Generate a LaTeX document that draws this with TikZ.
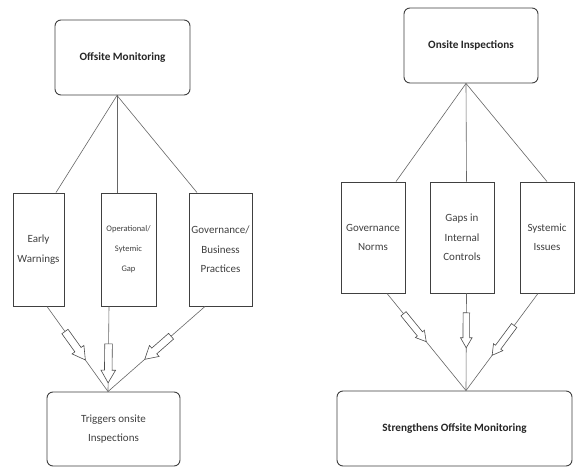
\documentclass[tikz,border=0pt]{standalone}
\usepackage{fontspec}
\setmainfont{Carlito}
\usetikzlibrary{shapes.arrows}
\begin{document}
\begin{tikzpicture}[x=1pt,y=-1pt,
  rbox/.style={draw=black!75, line width=0.9pt, rounded corners=6pt, align=center, inner sep=0pt, text=black!85},
  sbox/.style={draw=black!75, line width=0.9pt, align=center, inner sep=0pt, text=black!75, font=\fontsize{11}{19.5}\selectfont},
  link/.style={draw=black!60, line width=0.6pt},
  harrowL/.style={single arrow, draw=black!70, fill=white, line width=0.6pt, inner xsep=0pt, inner ysep=3.5pt,
    single arrow head extend=3.5pt, single arrow tip angle=60, minimum height=35pt, sloped, allow upside down},
  harrowR/.style={harrowL, inner ysep=3pt, single arrow head extend=2.5pt, minimum height=36pt},
  title/.style={font=\bfseries\fontsize{11.2}{13}\selectfont}
]
\path[fill=white] (0,0) rectangle (579,468);
\useasboundingbox (0,0) rectangle (579,468);

% ---------- left diagram ----------
\node[rbox, title, minimum width=135pt, minimum height=75pt] (om) at (122.5,57.5) {Offsite Monitoring};
\node[sbox, minimum width=51pt, minimum height=113pt] (ew) at (38.5,249.5) {Early\\Warnings};
\node[sbox, minimum width=55pt, minimum height=113pt, font=\fontsize{8.5}{20}\selectfont] (og) at (128.5,249.5) {Operational/\\Sytemic\\Gap};
\node[sbox, minimum width=63pt, minimum height=113pt] (gb) at (220.5,249.5) {Governance/\\Business\\Practices};
\node[rbox, minimum width=133pt, minimum height=74pt, text=black!75, font=\fontsize{11}{19}\selectfont] (tr) at (113.5,429) {Triggers onsite\\Inspections};

\coordinate (a1) at ([xshift=-5.5pt]om.south);
\coordinate (b1) at ([xshift=-5.5pt]tr.north);
\draw[link] (a1) -- ([xshift=17.5pt]ew.north);
\draw[link] (a1) -- ([xshift=-11.5pt]og.north);
\draw[link] (a1) -- ([xshift=-23.5pt]gb.north);
\draw[link] ([xshift=8.5pt]ew.south) -- node[harrowL, pos=.43] (al1) {} (b1);
\draw[link] ([xshift=-19.5pt]og.south) -- node[harrowL, pos=.63, minimum height=39pt] (al2) {} (b1);
\draw[link] ([xshift=-15.5pt]gb.south) -- node[harrowL, pos=.46] (al3) {} (b1);

% ---------- right diagram ----------
\node[rbox, title, minimum width=134pt, minimum height=75pt] (oi) at (471,45.5) {Onsite Inspections};
\node[sbox, minimum width=64pt, minimum height=111pt] (gn) at (373,237.5) {Governance\\Norms};
\node[sbox, minimum width=64pt, minimum height=111pt] (gi) at (462,237.5) {Gaps in\\Internal\\Controls};
\node[sbox, minimum width=54pt, minimum height=111pt] (si) at (547,237.5) {Systemic\\Issues};
\node[rbox, title, minimum width=235pt, minimum height=75pt] (st) at (454.5,428.5) {Strengthens Offsite Monitoring};

\coordinate (a2) at ([xshift=-5pt]oi.south);
\coordinate (b2) at ([xshift=11.5pt]st.north);
\draw[link] (a2) -- ([xshift=23pt]gn.north);
\draw[link] (a2) -- ([xshift=4.5pt]gi.north);
\draw[link] (a2) -- (si.north);
\draw[link] ([xshift=14pt]gn.south) -- node[harrowR, pos=.33] (ar1) {} (b2);
\draw[link] ([xshift=4.5pt]gi.south) -- node[harrowR, pos=.35, minimum height=35pt] (ar2) {} (b2);
\draw[link] ([xshift=-9pt]si.south) -- node[harrowR, pos=.46, minimum height=37pt] (ar3) {} (b2);
\end{tikzpicture}
\end{document}
